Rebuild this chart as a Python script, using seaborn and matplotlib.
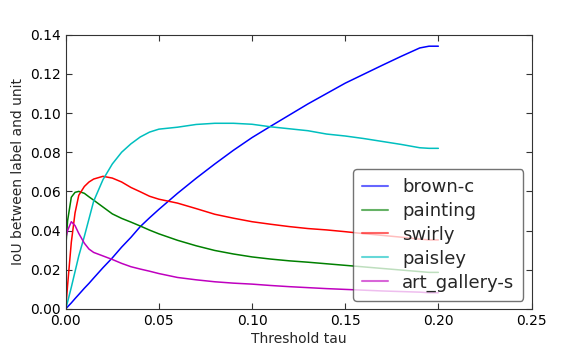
import pandas as pd
import seaborn as sns
import matplotlib.pyplot as plt

# thresholds shared by all series
tau = [0, 0.001, 0.003, 0.005, 0.007, 0.01, 0.0125, 0.015, 0.02, 0.025, 0.03,
       0.035, 0.04, 0.045, 0.05, 0.06, 0.07, 0.08, 0.09, 0.10, 0.11, 0.12,
       0.13, 0.14, 0.15, 0.16, 0.17, 0.18, 0.19, 0.195, 0.2]

brown_c = [0, 0.001, 0.003, 0.0052, 0.0073, 0.0105, 0.013, 0.0157, 0.021, 0.026,
           0.0315, 0.0365, 0.042, 0.0465, 0.0508, 0.059, 0.0667, 0.074, 0.081,
           0.0875, 0.0933, 0.099, 0.1047, 0.110, 0.1153, 0.1199, 0.1245, 0.129,
           0.1333, 0.1342, 0.1342]
painting = [0.031, 0.045, 0.057, 0.0595, 0.060, 0.059, 0.0572, 0.0555, 0.052,
            0.0485, 0.0462, 0.0443, 0.0423, 0.0402, 0.0383, 0.035, 0.0322,
            0.0298, 0.028, 0.0265, 0.0254, 0.0245, 0.0238, 0.023, 0.0222,
            0.0214, 0.0206, 0.0198, 0.019, 0.0186, 0.0186]
swirly = [0, 0.012, 0.034, 0.049, 0.058, 0.0625, 0.0648, 0.0663, 0.0677, 0.0668,
          0.0648, 0.062, 0.0598, 0.0575, 0.056, 0.054, 0.0512, 0.0483, 0.0463,
          0.0445, 0.0432, 0.042, 0.041, 0.0403, 0.0394, 0.0384, 0.0375, 0.0366,
          0.0356, 0.0352, 0.0352]
paisley = [0, 0.0035, 0.011, 0.019, 0.027, 0.037, 0.046, 0.055, 0.066, 0.074,
           0.0800, 0.0843, 0.0878, 0.0903, 0.0918, 0.0928, 0.0942, 0.0948, 0.0948,
           0.0943, 0.093, 0.092, 0.091, 0.0893, 0.0883, 0.087, 0.0855, 0.084,
           0.0823, 0.082, 0.082]
art_gallery_s = [0.036, 0.040, 0.0445, 0.0425, 0.0385, 0.0335, 0.0305, 0.0288,
                 0.027, 0.0252, 0.0232, 0.0215, 0.0203, 0.0192, 0.018, 0.016,
                 0.0148, 0.0138, 0.0131, 0.0126, 0.0119, 0.0113, 0.0108, 0.0103,
                 0.0099, 0.0095, 0.0091, 0.0088, 0.0085, 0.0082, 0.0082]

series = {
    'brown-c': brown_c,
    'painting': painting,
    'swirly': swirly,
    'paisley': paisley,
    'art_gallery-s': art_gallery_s,
}
colors = ['#0000ff', '#008000', '#ff0000', '#00bfbf', '#bf00bf']

df = pd.concat(
    [pd.DataFrame({'tau': tau, 'iou': v, 'name': k}) for k, v in series.items()],
    ignore_index=True)

sns.set_style('white', rc={
    'xtick.direction': 'in', 'ytick.direction': 'in',
    'xtick.top': True, 'ytick.right': True,
    'xtick.bottom': True, 'ytick.left': True,
    'axes.edgecolor': '#333333',
    'xtick.color': '#333333', 'ytick.color': '#333333',
})
plt.rcParams['font.family'] = ['DejaVu Sans']

fig = plt.figure(figsize=(5.74, 3.45), dpi=100)
fig.subplots_adjust(left=0.1145, right=0.926, top=0.899, bottom=0.105)
ax = fig.add_subplot(111)

sns.lineplot(data=df, x='tau', y='iou', hue='name', hue_order=list(series),
             palette=colors, linewidth=1.1, ax=ax, sort=False)

ax.set_xlim(0, 0.25)
ax.set_ylim(0, 0.14)
ax.set_xticks([0, 0.05, 0.10, 0.15, 0.20, 0.25])
ax.set_yticks([0, 0.02, 0.04, 0.06, 0.08, 0.10, 0.12, 0.14])
ax.set_xticklabels(['%.2f' % t for t in ax.get_xticks()])
ax.set_yticklabels(['%.2f' % t for t in ax.get_yticks()])
ax.tick_params(labelsize=10, length=4, width=0.8, labelcolor='black')
ax.set_xlabel('Threshold tau', fontsize=10, labelpad=3)
ax.set_ylabel('IoU between label and unit', fontsize=10)

leg = ax.legend(loc='lower right', fontsize=13, fancybox=True, framealpha=0.75,
                edgecolor='#444444', handlelength=1.4, handletextpad=0.8,
                labelspacing=0.32, borderpad=0.5, borderaxespad=0.45)
for h in leg.get_lines():
    h.set_alpha(0.6)
    h.set_linewidth(1.5)

fig.savefig('out.png', dpi=100)
